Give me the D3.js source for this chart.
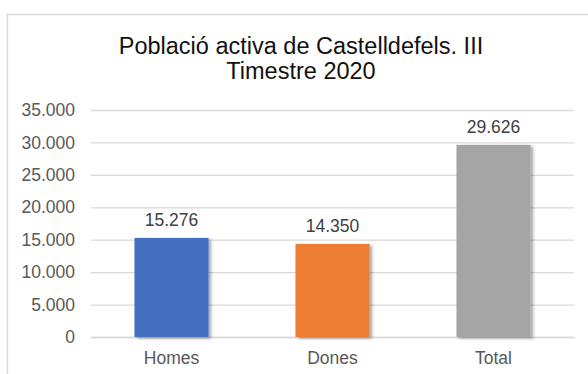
<!DOCTYPE html>
<html>
<head>
<meta charset="utf-8">
<script src="https://cdn.jsdelivr.net/npm/d3@7"></script>
<style>
  html, body { margin: 0; padding: 0; background: #fff; }
  svg { display: block; font-family: "Liberation Sans", Arial, sans-serif; }
</style>
</head>
<body>
<svg id="chart" width="588" height="374"></svg>
<script>
// Active population of Castelldefels, Q3 2020
const categories = ["Homes", "Dones", "Total"];
const values = [15276, 14350, 29626];
const colors = ["#4470C2", "#ED7D31", "#A5A5A5"];
const yTicks = [0, 5000, 10000, 15000, 20000, 25000, 30000, 35000];
const titleLines = ["Població activa de Castelldefels. III", "Timestre 2020"];

const W = 588, H = 374;
const margin = { left: 91, right: 14, top: 110, bottom: 37 };

const svg = d3.select("#chart");

const locale = d3.formatLocale({ decimal: ",", thousands: ".", grouping: [3], currency: ["", " €"] });
const fmt = locale.format(",d");

// drop shadow under the bars
const defs = svg.append("defs");
const f = defs.append("filter").attr("id", "shadow")
  .attr("x", "-20%").attr("y", "-20%").attr("width", "150%").attr("height", "150%");
f.append("feDropShadow").attr("dx", 2.5).attr("dy", 1.5)
  .attr("stdDeviation", 1.6).attr("flood-color", "#000").attr("flood-opacity", 0.35);

// chart area frame
svg.append("rect")
  .attr("x", 7.5).attr("y", 14.5)
  .attr("width", W + 10).attr("height", H + 10)
  .attr("fill", "#fff").attr("stroke", "#d9d9d9").attr("stroke-width", 1.5);

const x = d3.scaleBand()
  .domain(categories)
  .range([margin.left, W - margin.right])
  .paddingInner(0.54)
  .paddingOuter(0.27);

const y = d3.scaleLinear()
  .domain([0, 35000])
  .range([H - margin.bottom, margin.top]);

// title
const title = svg.append("text")
  .attr("text-anchor", "middle")
  .attr("fill", "#111")
  .style("font-size", "23.5px");
titleLines.forEach((t, i) => {
  title.append("tspan").attr("x", 301).attr("y", 54 + i * 24.5).text(t);
});

// horizontal gridlines + y labels
const yAxis = d3.axisLeft(y)
  .tickValues(yTicks)
  .tickFormat(fmt)
  .tickSize(-(W - margin.right - margin.left))
  .tickPadding(16);

const gy = svg.append("g")
  .attr("transform", `translate(${margin.left},0)`)
  .call(yAxis);
gy.select(".domain").remove();
gy.selectAll(".tick line").attr("stroke", "#d9d9d9").attr("stroke-width", 1.3);
gy.selectAll(".tick text")
  .attr("fill", "#595959")
  .style("font-size", "17.5px")
  .attr("font-family", "Liberation Sans, Arial, sans-serif");

// category axis
const xAxis = d3.axisBottom(x).tickSize(0).tickPadding(15);
const gx = svg.append("g")
  .attr("transform", `translate(0,${y(0)})`)
  .call(xAxis);
gx.select(".domain").attr("stroke", "#d9d9d9").attr("stroke-width", 1.3);
gx.selectAll(".tick text")
  .attr("fill", "#595959")
  .style("font-size", "17.5px")
  .attr("font-family", "Liberation Sans, Arial, sans-serif");

// bars
svg.append("g").selectAll("rect")
  .data(categories)
  .join("rect")
  .attr("x", d => x(d))
  .attr("width", x.bandwidth())
  .attr("y", (d, i) => y(values[i]))
  .attr("height", (d, i) => y(0) - y(values[i]))
  .attr("fill", (d, i) => colors[i])
  .attr("filter", "url(#shadow)");

// value labels
svg.append("g").selectAll("text")
  .data(categories)
  .join("text")
  .attr("x", d => x(d) + x.bandwidth() / 2)
  .attr("y", (d, i) => y(values[i]) - 12)
  .attr("text-anchor", "middle")
  .attr("fill", "#404040")
  .style("font-size", "17.5px")
  .text((d, i) => fmt(values[i]));
</script>
</body>
</html>
